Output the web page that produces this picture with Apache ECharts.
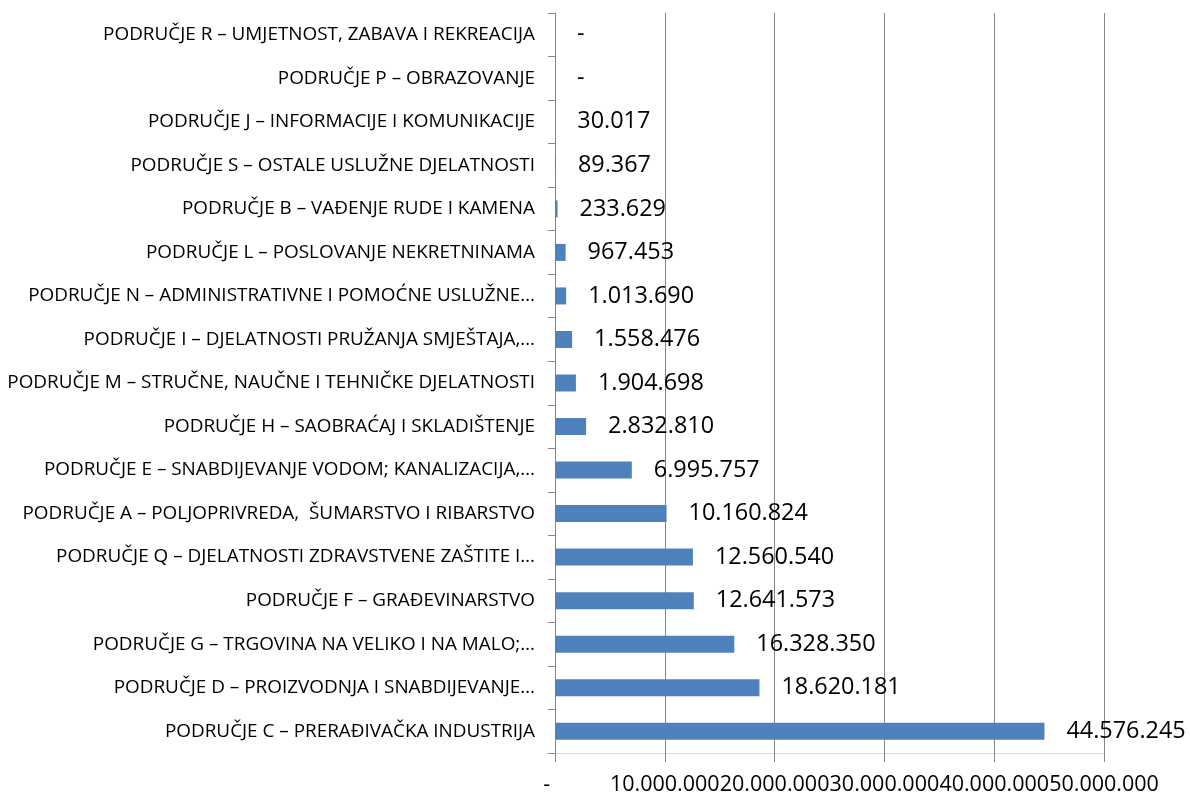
<!DOCTYPE html>
<html>
<head>
<meta charset="utf-8">
<title>Područja</title>
<script src="https://cdn.jsdelivr.net/npm/echarts@6/dist/echarts.min.js"></script>
<style>
  html, body { margin: 0; padding: 0; background: #fff; }
  #chart { width: 1190px; height: 800px; }
</style>
</head>
<body>
<div id="chart"></div>
<script>
// kategorije, odozdo prema gore (kao na slici)
var categories = [
  'PODRUČJE C – PRERAĐIVAČKA INDUSTRIJA',
  'PODRUČJE D – PROIZVODNJA I SNABDIJEVANJE…',
  'PODRUČJE G – TRGOVINA NA VELIKO I NA MALO;…',
  'PODRUČJE F – GRAĐEVINARSTVO',
  'PODRUČJE Q – DJELATNOSTI ZDRAVSTVENE ZAŠTITE I…',
  'PODRUČJE A – POLJOPRIVREDA,  ŠUMARSTVO I RIBARSTVO',
  'PODRUČJE E – SNABDIJEVANJE VODOM; KANALIZACIJA,…',
  'PODRUČJE H – SAOBRAĆAJ I SKLADIŠTENJE',
  'PODRUČJE M – STRUČNE, NAUČNE I TEHNIČKE DJELATNOSTI',
  'PODRUČJE I – DJELATNOSTI PRUŽANJA SMJEŠTAJA,…',
  'PODRUČJE N – ADMINISTRATIVNE I POMOĆNE USLUŽNE…',
  'PODRUČJE L – POSLOVANJE NEKRETNINAMA',
  'PODRUČJE B – VAĐENJE RUDE I KAMENA',
  'PODRUČJE S – OSTALE USLUŽNE DJELATNOSTI',
  'PODRUČJE J – INFORMACIJE I KOMUNIKACIJE',
  'PODRUČJE P – OBRAZOVANJE',
  'PODRUČJE R – UMJETNOST, ZABAVA I REKREACIJA'
];
var values = [
  44576245, 18620181, 16328350, 12641573, 12560540, 10160824, 6995757,
  2832810, 1904698, 1558476, 1013690, 967453, 233629, 89367, 30017, 0, 0
];
var xTicks = [0, 10000000, 20000000, 30000000, 40000000, 50000000];

// 1234567 -> 1.234.567, nula -> '-'
function fmt(v) {
  if (!v) return '-';
  return String(v).replace(/\B(?=(\d{3})+(?!\d))/g, '.');
}

var chart = echarts.init(document.getElementById('chart'));
var option = {
  backgroundColor: '#fff',
  animation: false,
  textStyle: { fontFamily: 'Open Sans', color: '#000' },
  grid: {
    left: 555,
    right: 86,
    top: 13,
    bottom: 47
  },
  xAxis: {
    type: 'value',
    min: xTicks[0],
    max: xTicks[xTicks.length - 1],
    interval: xTicks[1] - xTicks[0],
    axisLine: { show: true, lineStyle: { color: '#d9d9d9', width: 1 } },
    axisTick: { show: true, length: 9, lineStyle: { color: '#868686' } },
    axisLabel: {
      margin: 21,
      fontSize: 21.5,
      color: '#000',
      fontFamily: 'Open Sans',
      formatter: function (v) { return v === 0 ? '-   ' : fmt(v); }
    },
    splitLine: { show: true, lineStyle: { color: '#868686', width: 1 } }
  },
  yAxis: {
    type: 'category',
    data: categories,
    axisLine: { show: true, lineStyle: { color: '#868686', width: 1 } },
    axisTick: { show: true, length: 7, lineStyle: { color: '#868686' } },
    axisLabel: {
      margin: 20,
      fontSize: 18.9,
      color: '#000',
      fontFamily: 'Open Sans'
    },
    splitLine: { show: false }
  },
  series: [{
    type: 'bar',
    data: values,
    barWidth: 17,
    itemStyle: { color: '#4f81bd' },
    label: {
      show: true,
      position: 'right',
      distance: 22,
      fontSize: 23.4,
      color: '#000',
      fontFamily: 'Open Sans',
      formatter: function (p) { return fmt(p.value); }
    }
  }]
};
chart.setOption(option);
</script>
</body>
</html>
